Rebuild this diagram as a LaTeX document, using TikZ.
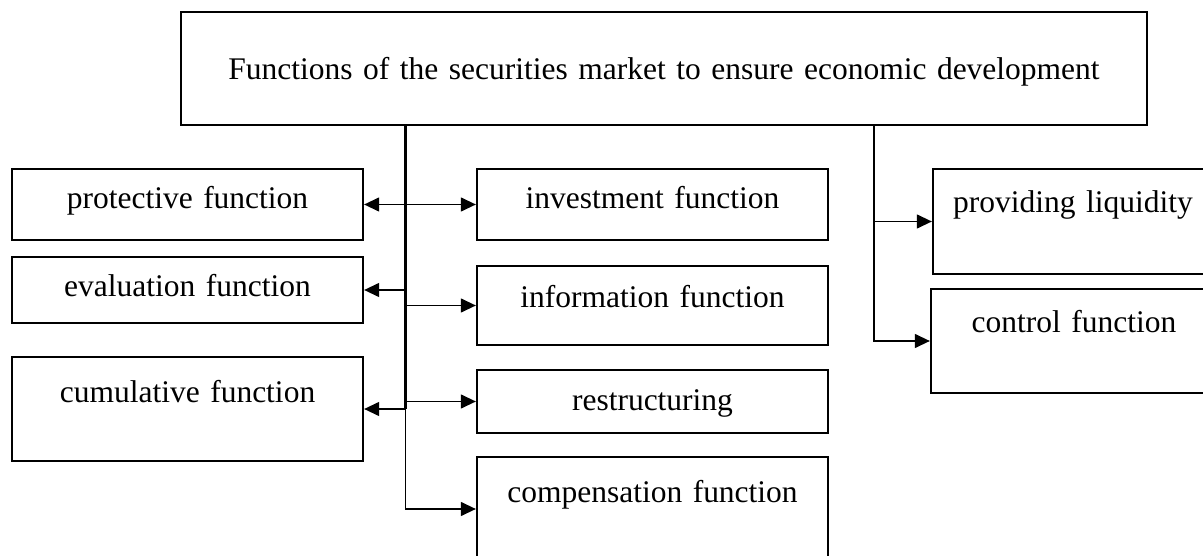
\documentclass[tikz,border=0pt]{standalone}
\usepackage{fontspec}
\setmainfont{Liberation Serif}
\usetikzlibrary{arrows.meta}

\tikzset{
  fbox/.style={draw, line width=2.3pt, inner sep=0pt, align=center,
    anchor=base, font=\fontsize{31.5}{38}\selectfont},
  link/.style={line width=1.3pt, -{Triangle[length=15pt,width=14pt]}},
  dlink/.style={line width=1.3pt,
    {Triangle[length=15pt,width=14pt]}-{Triangle[length=15pt,width=14pt]}},
  trunk/.style={line width=3pt},
}

\begin{document}
\begin{tikzpicture}[x=1pt, y=-1pt]
  \useasboundingbox (0,0) rectangle (1203,556);
  \clip (0,0) rectangle (1203,556);

  % header box
  \node[fbox, text width=966pt, text height=68pt, text depth=45pt] (top) at (664,80)
    {Functions of the securities market to ensure economic development};

  % left column
  \node[fbox, text width=351pt, text height=40pt, text depth=31pt] (prot) at (187.5,209) {protective function};
  \node[fbox, text width=351pt, text height=40pt, text depth=26pt] (eval) at (187.5,297) {evaluation function};
  \node[fbox, text width=351pt, text height=45pt, text depth=59pt] (cum) at (187.5,402) {cumulative function};

  % middle column
  \node[fbox, text width=351pt, text height=40pt, text depth=31pt] (inv) at (652.5,209) {investment function};
  \node[fbox, text width=351pt, text height=42pt, text depth=37pt] (info) at (652.5,308) {information function};
  \node[fbox, text width=351pt, text height=40pt, text depth=23pt] (restr) at (652.5,410) {restructuring};
  \node[fbox, text width=351pt, text height=45pt, text depth=59pt] (comp) at (652.5,502) {compensation function};

  % right column
  \node[fbox, text width=280pt, text height=44pt, text depth=61pt] (prov) at (1073,213) {providing liquidity};
  \node[fbox, text width=286pt, text height=43pt, text depth=61pt] (ctrl) at (1074,332) {control function};

  % spines
  \coordinate (spineL) at (405.5,0);
  \coordinate (spineR) at (874,0);

  \draw[trunk] (top.south -| spineL) -- (cum.east -| spineL);
  \draw[dlink] (prot.east) -- (inv.west);
  \draw[link] (eval.east -| spineL) -- (eval.east);
  \draw[link] (info.west -| spineL) -- (info.west);
  \draw[link] (cum.east -| spineL) -- (cum.east);
  \draw[link] (restr.west -| spineL) -- (restr.west);
  \draw[link] (cum.east -| spineL) |- (comp.west);

  \draw[link] (top.south -| spineR) |- (ctrl.west);
  \draw[link] (prov.west -| spineR) -- (prov.west);
\end{tikzpicture}
\end{document}
